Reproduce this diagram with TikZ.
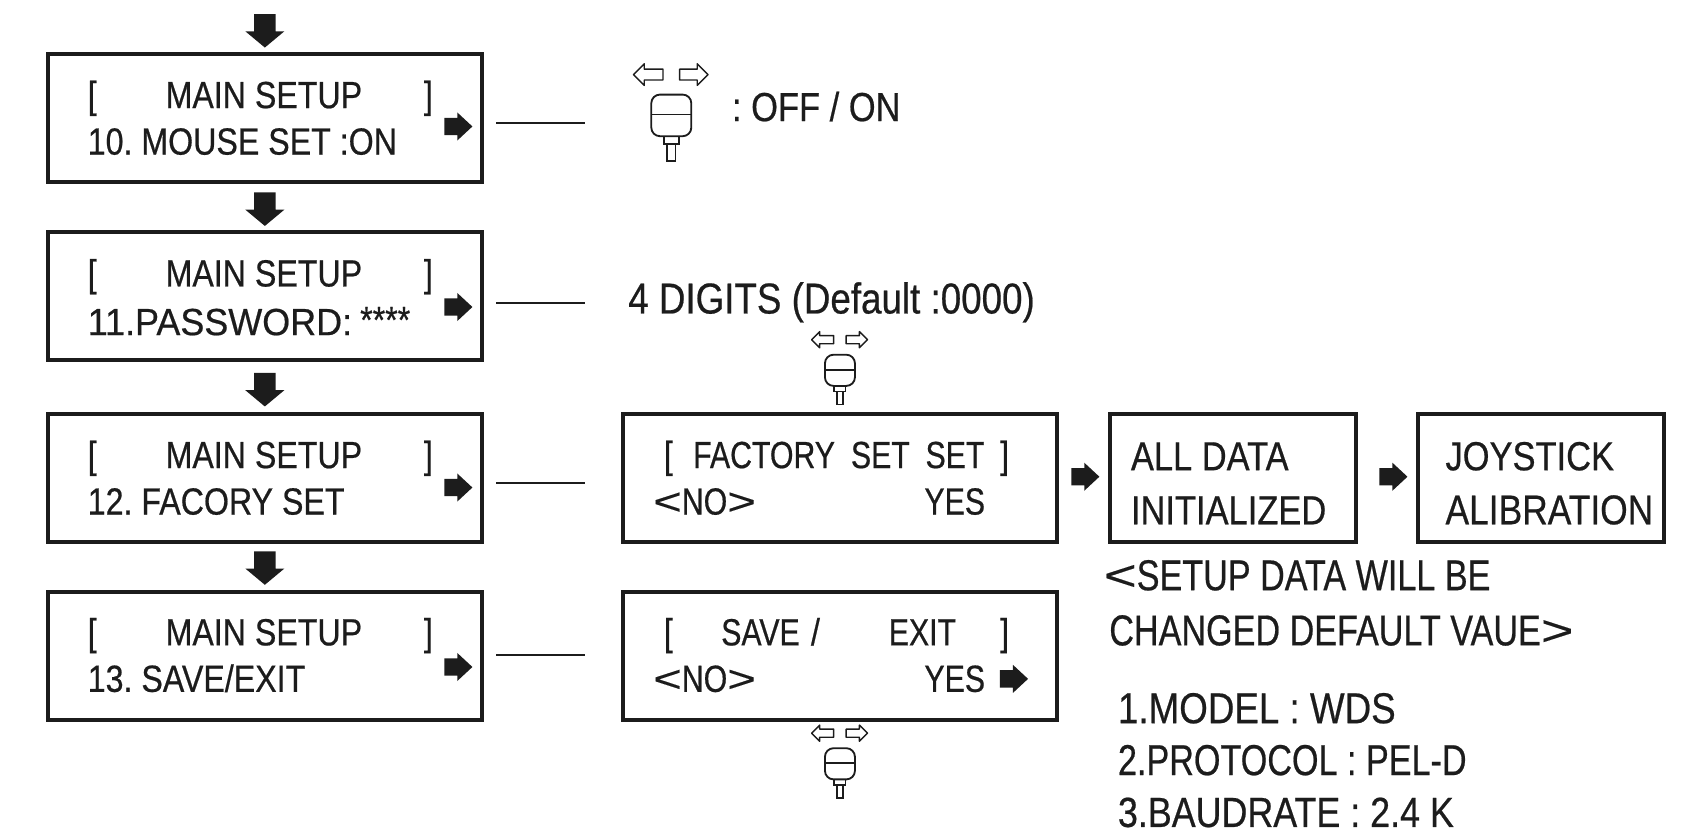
\documentclass[tikz,border=0pt]{standalone}
\usepackage{fontspec}
\setmainfont[FakeStretch=0.85,FakeBold=0.5]{Liberation Sans}
\newfontfamily\narrowf[FakeStretch=0.8,FakeBold=0.5]{Liberation Sans}
\newfontfamily\notef[FakeStretch=0.79,FakeBold=0.5]{Liberation Sans}
\newfontfamily\widef[FakeStretch=0.95,FakeBold=0.5]{Liberation Sans}
\newfontfamily\chevf[FakeStretch=1.3,FakeBold=0.2]{Liberation Sans}
\usetikzlibrary{shapes.arrows}
\definecolor{ink}{HTML}{1C1C1C}
\tikzset{
  x=1pt,y=-1pt,
  panel/.style={draw=ink,line width=3.6pt,fill=white,inner sep=0pt,minimum width=#1,minimum height=118pt},
  panel/.default=402pt,
  lbl/.style={anchor=base west,inner sep=0pt,text=ink,font=\frenchspacing\fontsize{35}{35}\selectfont},
  lblm/.style={lbl,font=\frenchspacing\fontsize{37.5}{38}\selectfont},
  lblb/.style={lbl,font=\frenchspacing\fontsize{40}{40}\selectfont},
  link/.style={draw=ink,line width=1.8pt},
  darrow/.pic={\fill[ink] (-10,-31) -- (10,-31) -- (10,-15) -- (18,-15) -- (0,0) -- (-18,-15) -- (-10,-15) -- cycle;},
  rarrow/.pic={\fill[ink] (-13,-8) -- (-1,-8) -- (-1,-13) -- (13,0) -- (-1,13) -- (-1,8) -- (-13,8) -- cycle;},
  stick/.pic={
    \draw[ink,line width=1.7pt,rounded corners=8pt] (-18.5,-18.5) rectangle (18.5,20);
    \draw[ink,line width=1.5pt] (-18.5,0) -- (18.5,0);
    \draw[ink,line width=1.5pt] (-7,20) -- (-7,27) -- (7,27) -- (7,20);
    \draw[ink,line width=1.5pt] (-4,27) -- (-4,43) -- (4,43) -- (4,27);
    \draw[ink,line width=1.3pt,line join=round] (-7.7,-42) -- (-25,-42) -- (-25,-47) -- (-35,-37) -- (-25,-27) -- (-25,-32) -- (-7.7,-32) -- cycle;
    \draw[ink,line width=1.3pt,line join=round] (7.7,-42) -- (24,-42) -- (24,-47) -- (34,-37) -- (24,-27) -- (24,-32) -- (7.7,-32) -- cycle;
  }
}
\newcommand{\lt}{{\chevf <}}
\newcommand{\gt}{{\chevf >}}
\begin{document}
\begin{tikzpicture}
\useasboundingbox (0,0) rectangle (1568,776);
% left column
\node[panel] (b1) at (245,109) {};
\node[panel] (b2) at (245,274) {};
\node[panel] (b3) at (245,442) {};
\node[panel] (b4) at (245,607) {};
% middle
\node[panel] (m3) at (777,442) {};
\node[panel] (m4) at (777,607) {};
% right
\node[panel=227pt] (r1) at (1140.5,442) {};
\node[panel=227pt] (r2) at (1425.5,442) {};
% down arrows
\pic (d0) at (245,44) {darrow};
\pic (d1) at (245,209) {darrow};
\pic (d2) at (245,376) {darrow};
\pic (d3) at (245,541) {darrow};
% right arrows
\pic (a1) at (424,117) {rarrow};
\pic (a2) at (424,284) {rarrow};
\pic (a3) at (424,451) {rarrow};
\pic (a4) at (424,617) {rarrow};
\pic (a5) at (1004,441) {rarrow};
\pic (a6) at (1289,441) {rarrow};
\pic (a7) at (938,628) {rarrow};
% connectors
\coordinate (e1) at (541,114); \coordinate (s1) at (459,114);
\coordinate (e2) at (541,280); \coordinate (s2) at (459,280);
\coordinate (e3) at (541,447); \coordinate (s3) at (459,447);
\coordinate (e4) at (541,606); \coordinate (s4) at (459,606);
\draw[link] (s1) -- (e1);
\draw[link] (s2) -- (e2);
\draw[link] (s3) -- (e3);
\draw[link] (s4) -- (e4);
% left text
\foreach \n/\y in {p1/100,p2/265,p3/433,p4/597}{
  \node[lbl] (o\n) at (81,\y) {[};
  \node[lbl] (m\n) at (153,\y) {MAIN SETUP};
  \node[lbl] (c\n) at (392,\y) {]};
}
\node[lbl] (t1) at (81,143) {10. MOUSE SET :ON};
\node[lbl] (t2) at (81,310) {\widef 11.PASSWORD:};
\node[lbl] (t2b) at (333,308) {****};
\node[lbl] (t3) at (81,476) {12. FACORY SET};
\node[lbl] (t4) at (81,640) {13. SAVE/EXIT};
% top right
\pic at (621,106) {stick};
\node[lblm] (off) at (677,112) {: OFF / ON};
\node[lblb] (dig) at (581,290) {4 DIGITS (Default :0000)};
\pic[scale=0.75,transform shape] at (777,342) {stick};
\pic[scale=0.75,transform shape] at (777,706) {stick};
% factory
\node[lbl] (f1) at (614,433) {[};
\node[lbl] (f2) at (641,433) {\narrowf FACTORY};
\node[lbl] (f3) at (787,433) {\narrowf SET};
\node[lbl] (f4) at (856,433) {\narrowf SET};
\node[lbl] (f5) at (925,433) {]};
\node[lbl] (f6) at (604,476) {\narrowf\lt NO\gt};
\node[lbl] (f7) at (855,476) {\narrowf YES};
% save
\node[lbl] (s5) at (614,597) {[};
\node[lbl] (s6) at (667,597) {\narrowf SAVE};
\node[lbl] (s7) at (750,597) {/};
\node[lbl] (s8) at (822,597) {\narrowf EXIT};
\node[lbl] (s9) at (925,597) {]};
\node[lbl] (s10) at (604,640) {\narrowf\lt NO\gt};
\node[lbl] (s11) at (855,640) {\narrowf YES};
% right boxes
\node[lblm] (x1) at (1046,435) {ALL DATA};
\node[lblm] (x2) at (1046,485) {INITIALIZED};
\node[lblm] (x3) at (1337,435) {JOYSTICK};
\node[lblm] (x4) at (1337,485) {\fontsize{38.5}{39}\selectfont ALIBRATION};
% notes
\node[lblb] (n1) at (1021,546) {\notef\lt SETUP DATA WILL BE};
\node[lblb] (n2) at (1026,597) {\notef CHANGED DEFAULT VAUE\gt};
\node[lblb] (n3) at (1034,669) {1.MODEL : WDS};
\node[lblb] (n4) at (1034,717) {\notef 2.PROTOCOL : PEL-D};
\node[lblb] (n5) at (1034,765) {\fontsize{39}{39}\selectfont 3.BAUDRATE : 2.4 K};
\end{tikzpicture}
\end{document}
